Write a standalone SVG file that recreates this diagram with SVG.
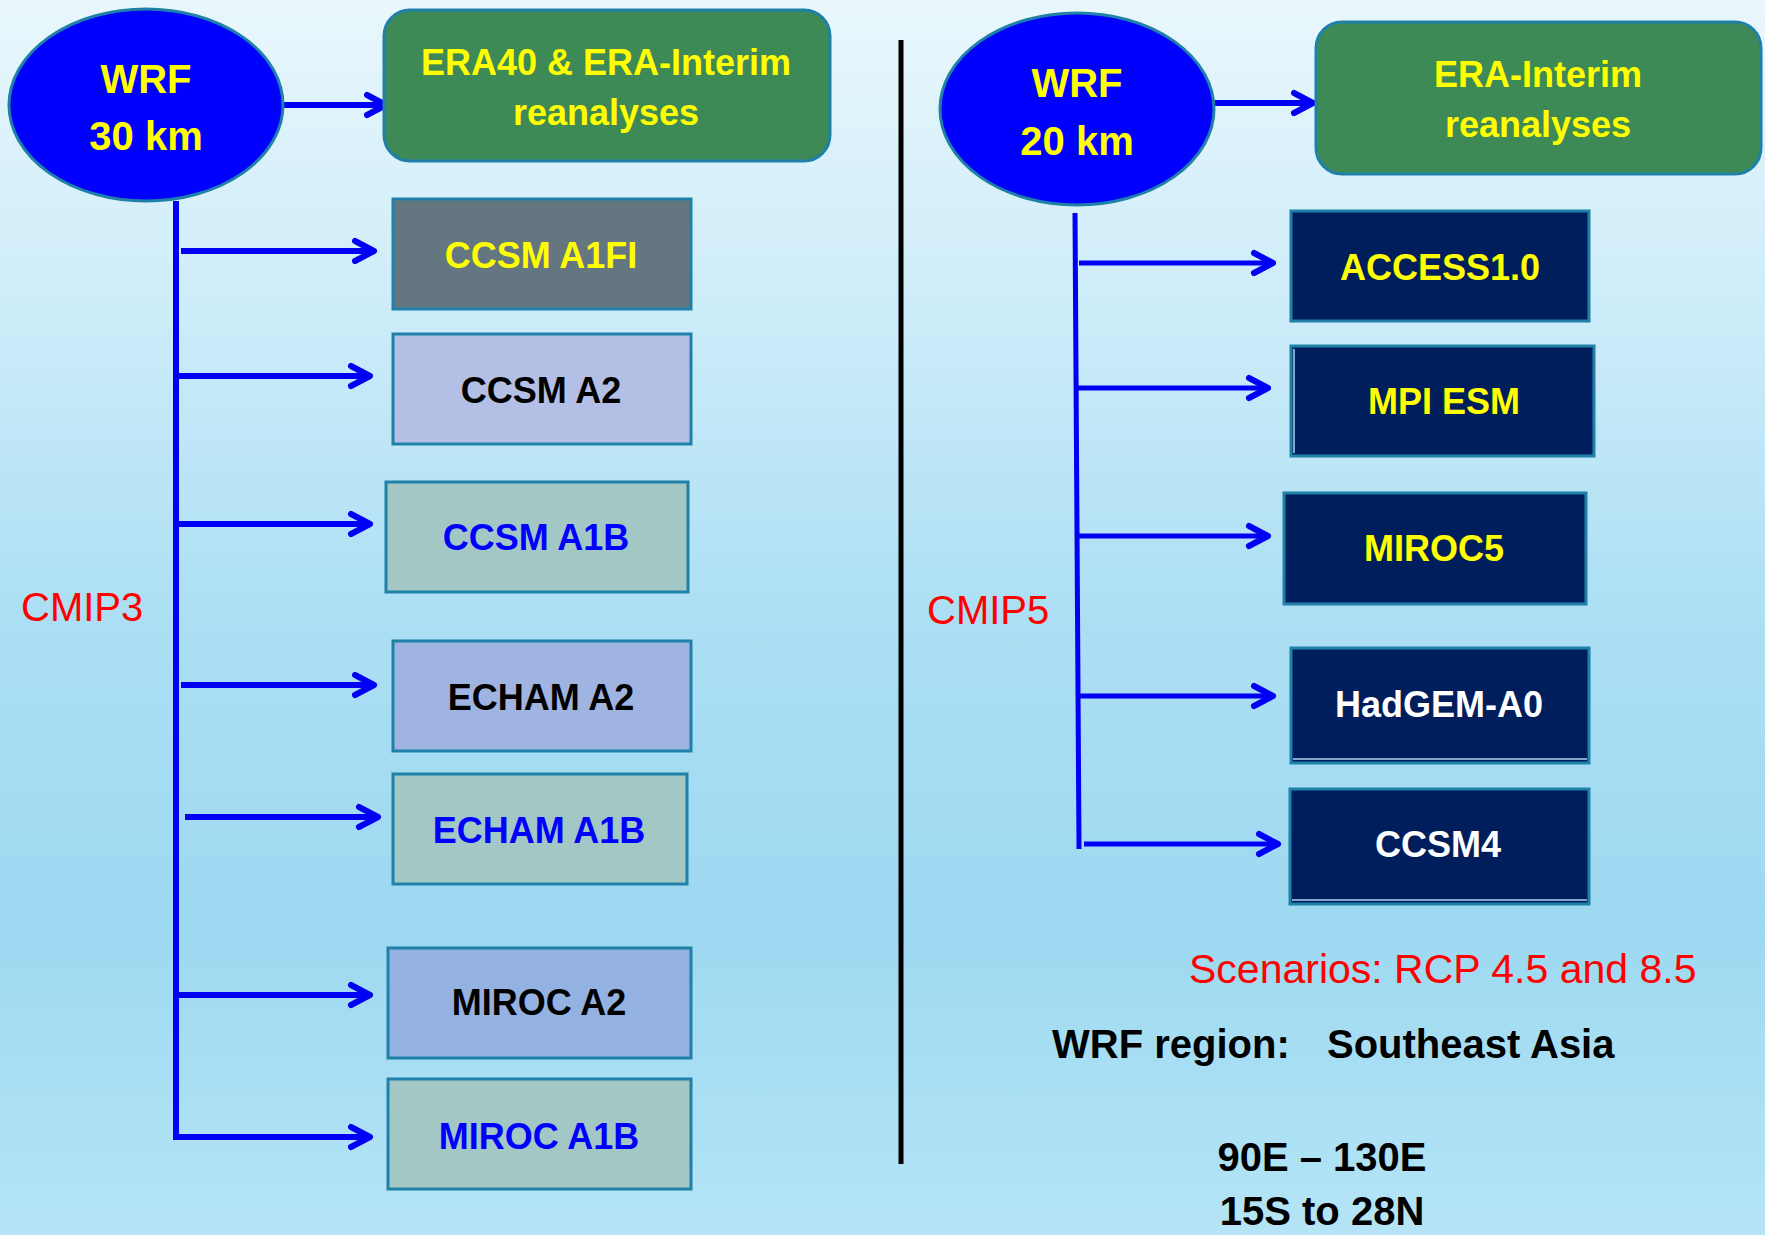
<svg xmlns="http://www.w3.org/2000/svg" width="1765" height="1235" viewBox="0 0 1765 1235">
<defs>
  <linearGradient id="bg" x1="0" y1="0" x2="0" y2="1">
    <stop offset="0" stop-color="#e9f7fc"/>
    <stop offset="0.25" stop-color="#cdecf9"/>
    <stop offset="0.5" stop-color="#acdff4"/>
    <stop offset="0.75" stop-color="#9dd9f1"/>
    <stop offset="1" stop-color="#b5e4f6"/>
  </linearGradient>
  <marker id="ah" markerUnits="userSpaceOnUse" markerWidth="40" markerHeight="40" viewBox="-30 -20 40 40" refX="0" refY="0" orient="auto" overflow="visible">
    <path d="M-19,-10 L0,0 L-19,10" fill="none" stroke="#0000f5" stroke-width="6" stroke-linecap="round" stroke-linejoin="round"/>
  </marker>
  <style>
    .t { font-family: "Liberation Sans", Arial, sans-serif; font-weight: bold; text-anchor: middle; }
    .lbl { font-size: 36px; }
    .big { font-size: 40px; }
    .red { font-family: "Liberation Sans", Arial, sans-serif; fill: #ff0000; }
    .yel { fill: #ffff00; }
    .blk { fill: #000000; }
    .blu { fill: #0000ff; }
    .wht { fill: #ffffff; }
    .box { stroke: #1f80a8; stroke-width: 3; }
    .navy { fill: #001e5c; stroke: #1f80a8; stroke-width: 3; }
    .teal { fill: #a3c7c5; }
    .wrf { fill: #0000ff; stroke: #1f80a8; stroke-width: 3; }
    .green { fill: #3e8a56; stroke: #1f80a8; stroke-width: 3; }
    .conn { fill: none; stroke: #0000f5; stroke-width: 6; }
    .connr { fill: none; stroke: #0000f5; stroke-width: 5; }
  </style>
</defs>

<rect x="0" y="0" width="1765" height="1235" fill="url(#bg)"/>

<!-- divider -->
<line x1="901" y1="40" x2="901" y2="1164" stroke="#000" stroke-width="5"/>

<!-- connectors -->
<g id="connectors">
  <path class="conn" d="M283,105 H386" marker-end="url(#ah)"/>
  <path class="conn" d="M176,201 V1137 H370" marker-end="url(#ah)"/>
  <path class="conn" d="M181,251 H374" marker-end="url(#ah)"/>
  <path class="conn" d="M176,376 H370" marker-end="url(#ah)"/>
  <path class="conn" d="M176,524 H370" marker-end="url(#ah)"/>
  <path class="conn" d="M181,685 H374" marker-end="url(#ah)"/>
  <path class="conn" d="M185,817 H378" marker-end="url(#ah)"/>
  <path class="conn" d="M176,995 H370" marker-end="url(#ah)"/>

  <path class="conn" d="M1214,103 H1313" marker-end="url(#ah)"/>
  <path class="connr" d="M1075,213 L1079,849"/>
  <path class="connr" d="M1079,263 H1273" marker-end="url(#ah)"/>
  <path class="connr" d="M1077,388 H1268" marker-end="url(#ah)"/>
  <path class="connr" d="M1078,536 H1268" marker-end="url(#ah)"/>
  <path class="connr" d="M1078,696 H1273" marker-end="url(#ah)"/>
  <path class="connr" d="M1084,844 H1278" marker-end="url(#ah)"/>
</g>

<!-- left side -->
<g id="wrf30">
  <ellipse class="wrf" cx="146" cy="105" rx="137" ry="96"/>
  <text class="t big yel" x="146" y="93">WRF</text>
  <text class="t big yel" x="146" y="150">30 km</text>
</g>
<g id="era40">
  <rect class="green" x="384" y="10" width="446" height="151" rx="26" ry="26"/>
  <text class="t yel" font-size="36" x="606" y="75">ERA40 &amp; ERA-Interim</text>
  <text class="t yel" font-size="36" x="606" y="125">reanalyses</text>
</g>
<g id="ccsm-a1fi">
  <rect class="box" fill="#647680" x="393" y="199" width="298" height="110"/>
  <text class="t lbl yel" x="541" y="268">CCSM A1FI</text>
</g>
<g id="ccsm-a2">
  <rect class="box" fill="#b3bfe4" x="393" y="334" width="298" height="110"/>
  <text class="t lbl blk" x="541" y="403">CCSM A2</text>
</g>
<g id="ccsm-a1b">
  <rect class="box teal" x="386" y="482" width="302" height="110"/>
  <text class="t lbl blu" x="536" y="550">CCSM A1B</text>
</g>
<g id="echam-a2">
  <rect class="box" fill="#a0b4e1" x="393" y="641" width="298" height="110"/>
  <text class="t lbl blk" x="541" y="710">ECHAM A2</text>
</g>
<g id="echam-a1b">
  <rect class="box teal" x="393" y="774" width="294" height="110"/>
  <text class="t lbl blu" x="539" y="843">ECHAM A1B</text>
</g>
<g id="miroc-a2">
  <rect class="box" fill="#94b2e1" x="388" y="948" width="303" height="110"/>
  <text class="t lbl blk" x="539" y="1015">MIROC A2</text>
</g>
<g id="miroc-a1b">
  <rect class="box teal" x="388" y="1079" width="303" height="110"/>
  <text class="t lbl blu" x="539" y="1149">MIROC A1B</text>
</g>
<text class="red" font-size="40" x="21" y="621">CMIP3</text>

<!-- right side -->
<g id="wrf20">
  <ellipse class="wrf" cx="1077" cy="109" rx="137" ry="96"/>
  <text class="t big yel" x="1077" y="97">WRF</text>
  <text class="t big yel" x="1077" y="155">20 km</text>
</g>
<g id="era-interim">
  <rect class="green" x="1316" y="22" width="445" height="152" rx="26" ry="26"/>
  <text class="t yel" font-size="36" x="1538" y="87">ERA-Interim</text>
  <text class="t yel" font-size="36" x="1538" y="137">reanalyses</text>
</g>
<g id="access">
  <rect class="navy" x="1291" y="211" width="298" height="110"/>
  <text class="t lbl yel" x="1440" y="280">ACCESS1.0</text>
</g>
<g id="mpi-esm">
  <rect class="navy" x="1291" y="346" width="303" height="110"/>
  <line x1="1294" y1="349" x2="1294" y2="453" stroke="#7fa6c8" stroke-width="2"/>
  <text class="t lbl yel" x="1444" y="414">MPI ESM</text>
</g>
<g id="miroc5">
  <rect class="navy" x="1284" y="493" width="302" height="111"/>
  <text class="t lbl yel" x="1434" y="561">MIROC5</text>
</g>
<g id="hadgem">
  <rect class="navy" x="1291" y="648" width="298" height="115"/>
  <line x1="1293" y1="759" x2="1587" y2="759" stroke="#7fa6c8" stroke-width="2"/>
  <text class="t lbl wht" x="1439" y="717">HadGEM-A0</text>
</g>
<g id="ccsm4">
  <rect class="navy" x="1290" y="789" width="299" height="115"/>
  <line x1="1292" y1="900" x2="1587" y2="900" stroke="#7fa6c8" stroke-width="2"/>
  <text class="t lbl wht" x="1438" y="857">CCSM4</text>
</g>
<text class="red" font-size="40" x="927" y="624">CMIP5</text>

<text class="red" font-size="41" x="1189" y="983">Scenarios: RCP 4.5 and 8.5</text>
<text class="t" font-size="40" style="text-anchor:start" y="1058"><tspan x="1052">WRF region:</tspan><tspan x="1327">Southeast Asia</tspan></text>
<text class="t" font-size="40" x="1322" y="1171">90E – 130E</text>
<text class="t" font-size="40" x="1322" y="1225">15S to 28N</text>
</svg>
